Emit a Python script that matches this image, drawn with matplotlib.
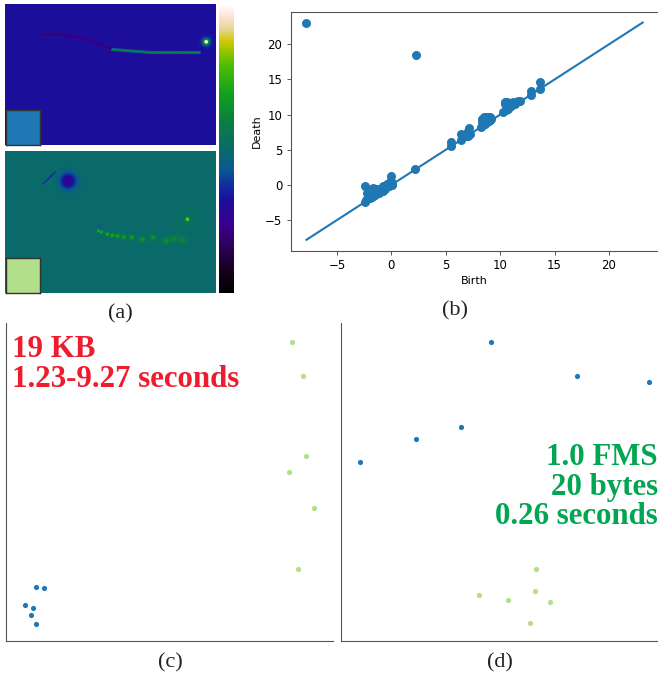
#!/usr/bin/env python3
import numpy as np
import matplotlib
matplotlib.use('Agg')
import matplotlib.pyplot as plt
from matplotlib.colors import LinearSegmentedColormap

W, H = 658, 677
BLUE = '#1f77b4'
LIGHT = '#b2df8a'
SPINE = '#555555'

# colorbar stops: (position, colour)
cmap_stops = [(0.0, '#000000'), (0.08, '#180020'), (0.167, '#300060'), (0.236, '#3a0090'),
              (0.323, '#1a0f9c'), (0.375, '#1030a0'), (0.427, '#0a5a90'), (0.497, '#0a6a6a'),
              (0.597, '#0a8040'), (0.687, '#10a020'), (0.792, '#50c000'), (0.872, '#d0c800'),
              (0.92, '#e8d8a0'), (0.955, '#ffe0d0'), (1.0, '#ffffff')]

# top image: background level, faint trail, bright trail, hot spot
top_bg = 0.323
top_dark_path = [(38, 30), (58, 30), (82, 35), (105, 44)]
top_green_path = [(107, 45), (145, 48), (195, 48)]
top_spot = (200.7, 37.3)

# bottom image
bottom_bg = 0.497
bottom_blob = (62.7, 30.3)
bottom_small_blob = (94.3, 76.3)
bottom_streak = [(37.7, 33), (50, 21)]
bottom_spot = (182, 68.3)
bottom_trail = [(92.7, 79.7), (96, 81), (101.7, 83), (106.7, 84.3), (112, 85), (118.3, 86),
                (126.3, 86.3), (136.7, 88.3), (147.3, 86.3), (160.7, 89.7), (168.3, 87.7), (176.7, 89)]

# persistence diagram
birth = [-7.8, 2.3, 2.2, -2.46, 0.0, 0.0, -0.1, -0.3, -0.5, -0.7, -0.9, -1.1, -1.3, -1.5, -1.7, -1.9, -2.1, -2.3, -2.4,
         -1.7, -2.2, -1.3, -0.8, -0.4, 0.05, -1.9, -1.6, -1.4, -1.2, -1.0, -0.7, -0.5, -0.3, -0.1, -2.0, -1.8,
         -1.5, -1.1, -0.8, -0.6, -0.2, 0.1,
         5.5, 5.5, 6.4, 6.4, 7.0, 7.0, 7.1, 7.2, 6.9,
         8.2, 8.3, 8.4, 8.5, 8.6, 8.7, 8.8, 8.9, 9.0, 9.1, 8.4, 8.6, 8.9, 9.2, 8.3, 8.5, 8.8, 9.1,
         10.3, 10.4, 10.5, 10.6, 10.7, 10.4, 10.6, 10.8, 11.0, 11.2, 11.4, 11.6, 11.8, 12.8, 12.8, 13.7, 13.7]
death = [23.1, 18.5, 2.2, -0.1, 1.2, 0.5, 0.1, -0.1, -0.3, -0.4, -0.6, -0.8, -1.0, -1.2, -1.4, -1.6, -1.8, -2.1, -2.4,
         -0.4, -1.1, -0.6, -0.2, 0.2, 0.0, -1.5, -0.9, -1.1, -0.7, -0.6, -0.3, -0.1, 0.2, 0.4, -1.9, -1.7,
         -1.5, -1.1, -0.8, -0.6, -0.2, 0.1,
         5.5, 6.1, 6.4, 7.3, 7.0, 7.6, 8.1, 7.3, 6.9,
         8.3, 9.4, 8.5, 9.7, 8.7, 9.7, 8.9, 9.7, 9.1, 9.6, 9.0, 9.2, 9.4, 9.4, 8.9, 9.1, 9.3, 9.2,
         10.4, 11.8, 10.6, 11.0, 10.8, 11.5, 11.8, 11.2, 11.2, 11.8, 11.5, 12.0, 11.9, 12.8, 13.3, 13.7, 14.7]
diag_x = [-7.8, 23.1]
diag_y = [-7.8, 23.1]

# scatter panels, in pixels from the lower left corner of each axes
c_blue_x = [31, 39, 20, 28, 25.5, 31]
c_blue_y = [54, 53, 36, 33, 26, 17]
c_green_x = [286.5, 298, 301, 283.5, 309, 292.5]
c_green_y = [299, 265, 185, 169, 133, 72]
d_blue_x = [150, 236, 308, 120, 75, 19]
d_blue_y = [299, 265, 259, 214, 202, 179]
d_green_x = [194.5, 138, 167, 194, 208.5, 189]
d_green_y = [72, 46, 41, 50, 39, 18]

c_text = ['19 KB', '1.23-9.27 seconds']
d_text = ['1.0 FMS', '20 bytes', '0.26 seconds']
captions = {'(a)': (120, 318), '(b)': (455, 315), '(c)': (170, 667), '(d)': (500, 667)}

cmap = LinearSegmentedColormap.from_list('field', cmap_stops)


def px_axes(fig, left, top, right, bottom):
    return fig.add_axes([left / W, 1 - bottom / H, (right - left) / W, (bottom - top) / H])


def stamp(field, xx, yy, x, y, amp, sx):
    field += amp * np.exp(-((xx - x) ** 2 + (yy - y) ** 2) / (2 * sx ** 2))


def stamp_path(field, xx, yy, path, amp, sigma, step=1.5):
    # envelope of stamps along the polyline, keeps a steady level
    pts = np.array(path, dtype=float)
    seg = np.hypot(*np.diff(pts, axis=0).T)
    dist = np.r_[0, np.cumsum(seg)]
    t = np.arange(0, dist[-1], step)
    line = np.zeros_like(field)
    for x, y in zip(np.interp(t, dist, pts[:, 0]), np.interp(t, dist, pts[:, 1])):
        line = np.maximum(line, np.exp(-((xx - x) ** 2 + (yy - y) ** 2) / (2 * sigma ** 2)))
    field += amp * line


def image_panel(fig, top, bottom, field, inset_color):
    ax = px_axes(fig, 5, top, 216, bottom)
    ax.imshow(field, cmap=cmap, vmin=0, vmax=1, aspect='auto', interpolation='bilinear')
    ax.set_xticks([]); ax.set_yticks([])
    for s in ax.spines.values():
        s.set_visible(False)
    inset = px_axes(fig, 5.5, bottom - 35, 40, bottom - 0.5)
    inset.set_facecolor(inset_color)
    inset.set_xticks([]); inset.set_yticks([])
    for s in inset.spines.values():
        s.set_color('#333333'); s.set_linewidth(1.0)


def scatter_panel(fig, left, right, groups):
    ax = px_axes(fig, left, 323, right, 641)
    ax.set_xlim(0, right - left); ax.set_ylim(0, 641 - 323)
    for x, y, c in groups:
        ax.scatter(x, y, s=14, color=c, linewidths=0)
    ax.set_xticks([]); ax.set_yticks([])
    ax.spines['top'].set_visible(False); ax.spines['right'].set_visible(False)
    ax.spines['left'].set_color(SPINE); ax.spines['bottom'].set_color(SPINE)
    ax.patch.set_alpha(0)
    return ax


fig = plt.figure(figsize=(W / 100, H / 100), dpi=100)

# (a) two fields and the colorbar
yy, xx = np.mgrid[0:141, 0:211]
top_field = np.full(xx.shape, top_bg, dtype=float)
stamp_path(top_field, xx, yy, top_dark_path, -0.14, 1.0)
stamp_path(top_field, xx, yy, top_green_path, -0.04, 3.0)
stamp_path(top_field, xx, yy, top_green_path, 0.33, 1.0)
stamp(top_field, xx, yy, *top_spot, 0.2, 3.0)
stamp(top_field, xx, yy, *top_spot, 0.7, 1.5)
image_panel(fig, 4, 145, top_field, BLUE)

yy, xx = np.mgrid[0:142, 0:211]
bottom_field = np.full(xx.shape, bottom_bg, dtype=float)
stamp(bottom_field, xx, yy, *bottom_blob, -0.26, 5.5)
stamp(bottom_field, xx, yy, *bottom_small_blob, -0.08, 1.6)
stamp_path(bottom_field, xx, yy, bottom_streak, -0.2, 0.6)
stamp(bottom_field, xx, yy, *bottom_spot, 0.02, 10)
stamp(bottom_field, xx, yy, *bottom_spot, 0.38, 1.4)
for i, (x, y) in enumerate(bottom_trail):
    stamp(bottom_field, xx, yy, x, y, 0.3 - 0.016 * i, 1.0 + 0.14 * i)
image_panel(fig, 151, 293, bottom_field, LIGHT)

cax = px_axes(fig, 219, 5, 234, 293)
cax.imshow(np.linspace(1, 0, 256)[:, None], cmap=cmap, aspect='auto', vmin=0, vmax=1)
cax.axis('off')

# (b) persistence diagram
ax = px_axes(fig, 290.5, 12, 659, 251)
ax.plot(diag_x, diag_y, color=BLUE, linewidth=1.5)
ax.scatter(birth, death, s=42, color=BLUE, linewidths=0, zorder=3)
ax.set_xlim(-9.27, 24.6)
ax.set_ylim(-9.4, 24.6)
ax.set_xticks([-5, 0, 5, 10, 15, 20])
ax.set_yticks([-5, 0, 5, 10, 15, 20])
ax.tick_params(labelsize=8.5, length=3, width=0.7, color=SPINE, pad=3)
ax.set_xlabel('Birth', fontsize=8, labelpad=3)
ax.set_ylabel('Death', fontsize=8, labelpad=2)
ax.spines['right'].set_visible(False)
for s in ('left', 'top', 'bottom'):
    ax.spines[s].set_color(SPINE)

# (c), (d) projected points
scatter_panel(fig, 5.5, 333, [(c_blue_x, c_blue_y, BLUE), (c_green_x, c_green_y, LIGHT)])
scatter_panel(fig, 341, 658, [(d_blue_x, d_blue_y, BLUE), (d_green_x, d_green_y, LIGHT)])

serif = ['Liberation Serif', 'DejaVu Serif']
for line, base in zip(c_text, [357, 387]):
    fig.text(12 / W, 1 - base / H, line, color='#ed1c2e', fontsize=22.2, fontweight='bold',
             family=serif, ha='left', va='baseline')
for line, base in zip(d_text, [465, 495, 524]):
    fig.text(658 / W, 1 - base / H, line, color='#00a651', fontsize=22.2, fontweight='bold',
             family=serif, ha='right', va='baseline')
for label, (x, base) in captions.items():
    fig.text(x / W, 1 - base / H, label, fontsize=16, family=serif, ha='center', va='baseline', color='#222222')

fig.savefig('out.png', dpi=100)
